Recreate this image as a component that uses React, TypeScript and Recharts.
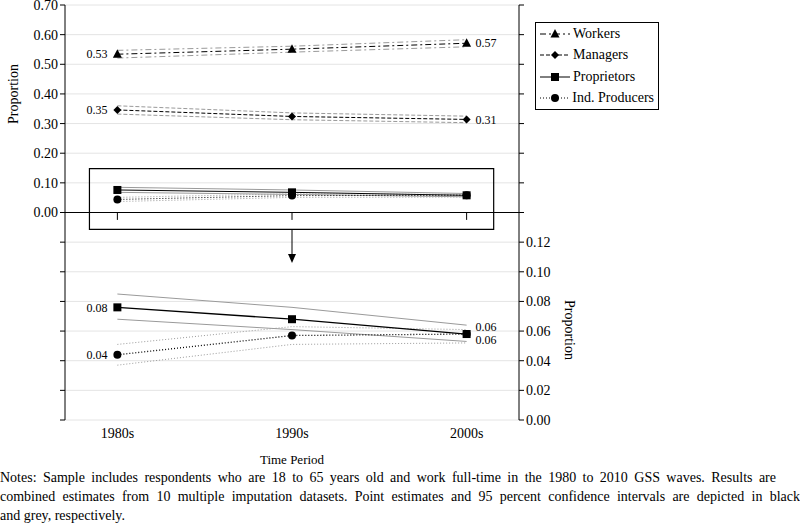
import React from "react";
import {
  ComposedChart,
  Line,
  XAxis,
  YAxis,
  CartesianGrid,
  ReferenceLine,
  ReferenceArea,
  LabelList,
  Legend,
} from "recharts";

// categories and values
const periods = ["1980s", "1990s", "2000s"];

const workers = [0.534, 0.551, 0.571];
const workersLo = [0.521, 0.541, 0.559];
const workersHi = [0.547, 0.561, 0.583];

const managers = [0.346, 0.324, 0.314];
const managersLo = [0.332, 0.313, 0.303];
const managersHi = [0.36, 0.336, 0.325];

const proprietors = [0.076, 0.068, 0.058];
const proprietorsLo = [0.068, 0.061, 0.053];
const proprietorsHi = [0.085, 0.076, 0.064];

const indProducers = [0.044, 0.057, 0.058];
const indProducersLo = [0.037, 0.051, 0.052];
const indProducersHi = [0.051, 0.063, 0.061];

const leftTicks = [-0.7, -0.6, -0.5, -0.4, -0.3, -0.2, -0.1, 0, 0.1, 0.2, 0.3, 0.4, 0.5, 0.6, 0.7];
const rightTicks = [0, 0.02, 0.04, 0.06, 0.08, 0.1, 0.12, 0.14, 0.16, 0.18, 0.2, 0.22, 0.24, 0.26, 0.28];

const data = periods.map((p, i) => ({
  idx: i,
  period: p,
  workers: workers[i],
  workersLo: workersLo[i],
  workersHi: workersHi[i],
  managers: managers[i],
  managersLo: managersLo[i],
  managersHi: managersHi[i],
  proprietors: proprietors[i],
  proprietorsLo: proprietorsLo[i],
  proprietorsHi: proprietorsHi[i],
  indProducers: indProducers[i],
  indProducersLo: indProducersLo[i],
  indProducersHi: indProducersHi[i],
}));

const FONT = '"Liberation Serif", "Times New Roman", serif';
const GREY = "#9a9a9a";
const DASH_DOT = "6 3 2 3";
const DASH = "4 2";
const DOTTED = "1 2";

const tickStyle = { fontSize: 14, fill: "#000", fontFamily: FONT };

type Shape = "triangle" | "diamond" | "square" | "circle";

const Marker = ({ cx, cy, shape }: { cx: number; cy: number; shape: Shape }) => {
  if (cx == null || cy == null) return null;
  if (shape === "triangle")
    return <polygon points={`${cx},${cy - 5} ${cx - 4.5},${cy + 3.5} ${cx + 4.5},${cy + 3.5}`} fill="#000" />;
  if (shape === "diamond")
    return <polygon points={`${cx},${cy - 4} ${cx + 4},${cy} ${cx},${cy + 4} ${cx - 4},${cy}`} fill="#000" />;
  if (shape === "square") return <rect x={cx - 4} y={cy - 4} width={8} height={8} fill="#000" />;
  return <circle cx={cx} cy={cy} r={4} fill="#000" />;
};

const dotOf = (shape: Shape) => (p: any) => <Marker key={`${shape}-${p.index}`} cx={p.cx} cy={p.cy} shape={shape} />;

// value labels: left of the first point, right of the last point
const valueLabel = (show: number[], rightDy = 0) => (props: any) => {
  const { x, y, index, value } = props;
  if (!show.includes(index)) return null;
  const first = index === 0;
  return (
    <text
      key={`lbl-${index}-${x}-${y}`}
      x={first ? x - 10 : x + 9}
      y={y + (first ? 0 : rightDy)}
      dy="0.35em"
      textAnchor={first ? "end" : "start"}
      fontSize={12}
      fontFamily={FONT}
      fill="#000"
    >
      {Number(value).toFixed(2)}
    </text>
  );
};

const legendItems: { name: string; dash?: string; shape: Shape }[] = [
  { name: "Workers", dash: DASH_DOT, shape: "triangle" },
  { name: "Managers", dash: DASH, shape: "diamond" },
  { name: "Proprietors", shape: "square" },
  { name: "Ind. Producers", dash: DOTTED, shape: "circle" },
];

const renderLegend = () => (
  <div style={{ border: "1px solid #000", background: "#fff", padding: "0 4px", fontSize: 14, fontFamily: FONT, color: "#000" }}>
    {legendItems.map((it) => (
      <div key={it.name} style={{ display: "flex", alignItems: "center", height: 21.5 }}>
        <svg width={30} height={12}>
          <line x1={0} y1={6} x2={30} y2={6} stroke="#000" strokeWidth={1} strokeDasharray={it.dash} />
          <Marker cx={15} cy={6} shape={it.shape} />
        </svg>
        <span style={{ marginLeft: 3, whiteSpace: "nowrap" }}>{it.name}</span>
      </div>
    ))}
  </div>
);

const arrowShape = (p: any) => {
  const { x1, y1, x2, y2 } = p;
  return (
    <g>
      <line x1={x1} y1={y1} x2={x2} y2={y2 - 8} stroke="#000" strokeWidth={1} />
      <polygon points={`${x2 - 4},${y2 - 9} ${x2 + 4},${y2 - 9} ${x2},${y2}`} fill="#000" />
    </g>
  );
};

export default function App() {
  return (
    <div
      style={{
        position: "absolute",
        left: 0,
        top: 0,
        width: 800,
        height: 525,
        background: "#fff",
        fontFamily: FONT,
        color: "#000",
      }}
    >
      <ComposedChart
        width={800}
        height={470}
        data={data}
        margin={{ top: 5, right: 221, bottom: 0, left: 10 }}
        style={{ fontFamily: FONT }}
      >
        <CartesianGrid yAxisId="l" horizontal vertical={false} stroke="#e4e4e4" />
        <XAxis
          dataKey="idx"
          type="number"
          domain={[-0.3, 2.3]}
          ticks={[0, 1, 2]}
          tickFormatter={(v: number) => periods[v]}
          axisLine={false}
          tickLine={false}
          height={50}
          tick={tickStyle}
          label={{
            content: () => (
              <text x={292} y={459} textAnchor="middle" dy="0.35em" fontSize={13} fontFamily={FONT} fill="#000">
                Time Period
              </text>
            ),
          }}
        />
        <YAxis
          yAxisId="l"
          domain={[-0.7, 0.7]}
          ticks={leftTicks}
          interval={0}
          width={55}
          stroke="#000"
          tickSize={5}
          tick={tickStyle}
          tickFormatter={(v: number) => (v >= -1e-9 ? v.toFixed(2) : "")}
          label={{
            content: () => (
              <text x={13} y={94} transform="rotate(-90 13 94)" textAnchor="middle" dy="0.35em" fontSize={14} fontFamily={FONT} fill="#000">
                Proportion
              </text>
            ),
          }}
        />
        <YAxis
          yAxisId="r"
          orientation="right"
          domain={[0, 0.28]}
          ticks={rightTicks}
          interval={0}
          width={60}
          stroke="#000"
          tickSize={5}
          tick={tickStyle}
          tickFormatter={(v: number) => (v <= 0.1201 ? v.toFixed(2) : "")}
          label={{
            content: () => (
              <text x={570} y={330} transform="rotate(90 570 330)" textAnchor="middle" dy="0.35em" fontSize={14} fontFamily={FONT} fill="#000">
                Proportion
              </text>
            ),
          }}
        />
        <Legend
          layout="vertical"
          align="center"
          verticalAlign="middle"
          content={renderLegend}
          wrapperStyle={{ left: 535, top: 22, width: 124, height: 88 }}
        />

        {/* upper panel x axis and tick marks */}
        <ReferenceLine yAxisId="l" y={0} stroke="#000" strokeWidth={1.2} />
        {[0, 1, 2].map((i) => (
          <ReferenceLine
            key={`tk${i}`}
            yAxisId="l"
            segment={[
              { x: i, y: 0 },
              { x: i, y: -0.025 },
            ]}
            stroke="#000"
          />
        ))}
        {/* zoom box and arrow */}
        <ReferenceArea yAxisId="l" x1={-0.16} x2={2.155} y1={-0.057} y2={0.148} fill="none" stroke="#000" strokeWidth={1.2} />
        <ReferenceLine
          yAxisId="l"
          segment={[
            { x: 1, y: -0.057 },
            { x: 1, y: -0.17 },
          ]}
          shape={arrowShape}
        />

        {/* upper panel confidence intervals */}
        <Line yAxisId="l" dataKey="workersLo" stroke={GREY} strokeDasharray={DASH_DOT} dot={false} isAnimationActive={false} />
        <Line yAxisId="l" dataKey="workersHi" stroke={GREY} strokeDasharray={DASH_DOT} dot={false} isAnimationActive={false} />
        <Line yAxisId="l" dataKey="managersLo" stroke={GREY} strokeDasharray={DASH} dot={false} isAnimationActive={false} />
        <Line yAxisId="l" dataKey="managersHi" stroke={GREY} strokeDasharray={DASH} dot={false} isAnimationActive={false} />
        <Line yAxisId="l" dataKey="proprietorsLo" stroke={GREY} dot={false} isAnimationActive={false} />
        <Line yAxisId="l" dataKey="proprietorsHi" stroke={GREY} dot={false} isAnimationActive={false} />
        <Line yAxisId="l" dataKey="indProducersLo" stroke={GREY} strokeDasharray={DOTTED} dot={false} isAnimationActive={false} />
        <Line yAxisId="l" dataKey="indProducersHi" stroke={GREY} strokeDasharray={DOTTED} dot={false} isAnimationActive={false} />

        {/* upper panel point estimates */}
        <Line yAxisId="l" dataKey="workers" stroke="#000" strokeDasharray={DASH_DOT} dot={dotOf("triangle")} isAnimationActive={false}>
          <LabelList dataKey="workers" content={valueLabel([0, 2])} />
        </Line>
        <Line yAxisId="l" dataKey="managers" stroke="#000" strokeDasharray={DASH} dot={dotOf("diamond")} isAnimationActive={false}>
          <LabelList dataKey="managers" content={valueLabel([0, 2])} />
        </Line>
        <Line yAxisId="l" dataKey="proprietors" stroke="#000" dot={dotOf("square")} isAnimationActive={false} />
        <Line yAxisId="l" dataKey="indProducers" stroke="#000" strokeDasharray={DOTTED} dot={dotOf("circle")} isAnimationActive={false} />

        {/* lower (zoomed) panel */}
        <Line yAxisId="r" dataKey="proprietorsLo" stroke={GREY} dot={false} isAnimationActive={false} />
        <Line yAxisId="r" dataKey="proprietorsHi" stroke={GREY} dot={false} isAnimationActive={false} />
        <Line yAxisId="r" dataKey="indProducersLo" stroke={GREY} strokeDasharray={DOTTED} dot={false} isAnimationActive={false} />
        <Line yAxisId="r" dataKey="indProducersHi" stroke={GREY} strokeDasharray={DOTTED} dot={false} isAnimationActive={false} />
        <Line yAxisId="r" dataKey="proprietors" stroke="#000" strokeWidth={1.3} dot={dotOf("square")} isAnimationActive={false}>
          <LabelList dataKey="proprietors" content={valueLabel([0, 2], -7)} />
        </Line>
        <Line yAxisId="r" dataKey="indProducers" stroke="#000" strokeDasharray={DOTTED} strokeWidth={1.3} dot={dotOf("circle")} isAnimationActive={false}>
          <LabelList dataKey="indProducers" content={valueLabel([0, 2], 6)} />
        </Line>
      </ComposedChart>

      <div style={{ position: "absolute", left: 0, top: 468, width: 800, fontSize: 14, lineHeight: "19px" }}>
        <div style={{ width: 776, textAlign: "justify", textAlignLast: "justify", whiteSpace: "nowrap" }}>
          Notes: Sample includes respondents who are 18 to 65 years old and work full-time in the 1980 to 2010 GSS waves. Results are
        </div>
        <div style={{ width: 800, textAlign: "justify", textAlignLast: "justify", whiteSpace: "nowrap" }}>
          combined estimates from 10 multiple imputation datasets. Point estimates and 95 percent confidence intervals are depicted in black
        </div>
        <div>and grey, respectively.</div>
      </div>
    </div>
  );
}
